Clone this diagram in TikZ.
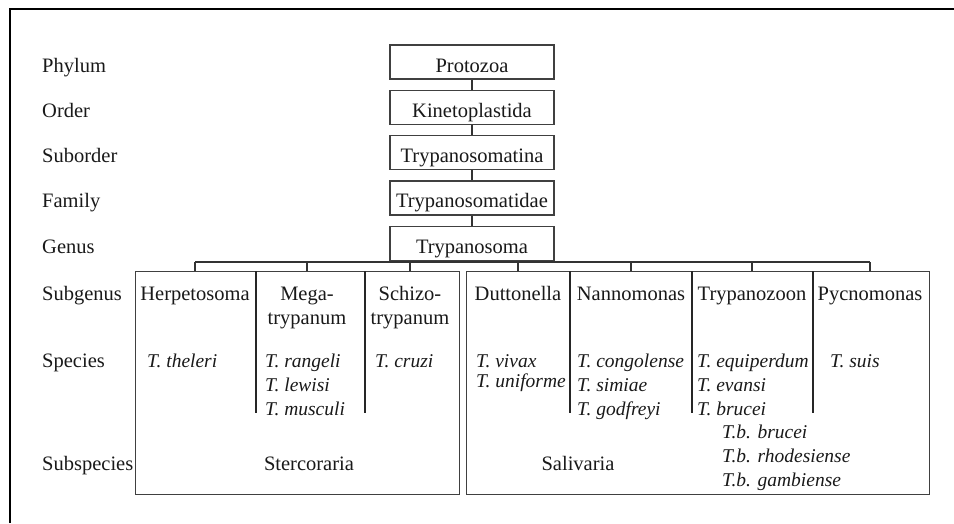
\documentclass[tikz,border=0pt]{standalone}
\usepackage{fontspec}
\setmainfont{Liberation Serif}
\usetikzlibrary{positioning}
\begin{document}
\begin{tikzpicture}[x=1pt,y=-1pt,node distance=10pt,
  every node/.append style={text=black!90},
  rank/.style={draw=black!75,line width=1.3pt,fill=white,minimum width=164pt,minimum height=34pt,
    inner sep=0pt,text height=20pt,text depth=0pt,font=\fontsize{20.5}{24}\selectfont},
  level/.style={anchor=base west,inner sep=0pt,font=\fontsize{20.5}{24}\selectfont},
  subgen/.style={anchor=base,inner sep=0pt,font=\fontsize{20.5}{24}\selectfont},
  spec/.style={anchor=base west,inner sep=0pt,font=\fontsize{19.5}{24}\selectfont\itshape},
  group/.style={draw=black!75,line width=1.3pt,anchor=north west,minimum height=223pt,inner sep=0pt},
  divider/.style={black!85,line width=2.2pt},
  link/.style={black!80,line width=1.1pt}]
\useasboundingbox (0,0) rectangle (954,523);
\draw[line width=1.6pt] (10,523) -- (10,9) -- (954,9);

% taxonomy column
\node[rank] (protozoa) at (472,62) {Protozoa};
\node[rank,below=of protozoa] (kineto) {Kinetoplastida};
\node[rank,below=of kineto] (tsina) {Trypanosomatina};
\node[rank,below=of tsina] (tdae) {Trypanosomatidae};
\node[rank,below=of tdae] (genus) {Trypanosoma};
\draw[link] (protozoa) -- (kineto);
\draw[link] (kineto) -- (tsina);
\draw[link] (tsina) -- (tdae);
\draw[link] (tdae) -- (genus);

% the two sections
\node[group,minimum width=324pt] (sterc) at (135,271) {};
\node[group,minimum width=463pt] (saliv) at (466,271) {};
\foreach \x in {256,365,570,692,813}
  \draw[divider] (\x,271) -- (\x,413);

% subgenera
\node[subgen] (herp) at (195,300) {Herpetosoma};
\node[subgen] (mega) at (307,300) {\begin{tabular}[t]{@{}c@{}}Mega-\\trypanum\end{tabular}};
\node[subgen] (schizo) at (410,300) {\begin{tabular}[t]{@{}c@{}}Schizo-\\trypanum\end{tabular}};
\node[subgen] (dutto) at (518,300) {Duttonella};
\node[subgen] (nanno) at (631,300) {Nannomonas};
\node[subgen] (tzoon) at (752,300) {Trypanozoon};
\node[subgen] (pycno) at (870,300) {Pycnomonas};

\coordinate (bar) at (0,262);
\draw[link] (genus) -- (genus |- bar);
\draw[link] (herp |- bar) -- (pycno |- bar);
\foreach \n in {herp,mega,schizo,dutto,nanno,tzoon,pycno}
  \draw[link] (\n |- bar) -- (\n |- sterc.north);

% species
\node[spec] (theleri) at (147,367) {T. theleri};
\node[spec] (rangeli) at (265,367) {\begin{tabular}[t]{@{}l@{}}T. rangeli\\T. lewisi\\T. musculi\end{tabular}};
\node[spec] (cruzi) at (375,367) {T. cruzi};
\node[spec] (vivax) at (476,367) {\begin{tabular}[t]{@{}l@{}}T. vivax\\[-4pt]T. uniforme\end{tabular}};
\node[spec] (congo) at (577,367) {\begin{tabular}[t]{@{}l@{}}T. congolense\\T. simiae\\T. godfreyi\end{tabular}};
\node[spec] (equi) at (697,367) {\begin{tabular}[t]{@{}l@{}}T. equiperdum\\T. evansi\\T. brucei\end{tabular}};
\node[spec] (suis) at (830,367) {T. suis};
\node[spec] (tbb) at (722,438) {\begin{tabular}[t]{@{}l@{}}T.b. brucei\\T.b. rhodesiense\\T.b. gambiense\end{tabular}};

\node[subgen] (stlab) at (309,470) {Stercoraria};
\node[subgen] (salab) at (578,470) {Salivaria};

% rank names
\coordinate (lm) at (42,0);
\node[level] (phylum) at (lm |- protozoa.base) {Phylum};
\node[level] (order) at (lm |- kineto.base) {Order};
\node[level] (suborder) at (lm |- tsina.base) {Suborder};
\node[level] (family) at (lm |- tdae.base) {Family};
\node[level] (genuslab) at (lm |- genus.base) {Genus};
\node[level] (subgenus) at (lm |- herp.base) {Subgenus};
\node[level] (species) at (lm |- theleri.base) {Species};
\node[level] (subspecies) at (lm |- stlab.base) {Subspecies};
\end{tikzpicture}
\end{document}
